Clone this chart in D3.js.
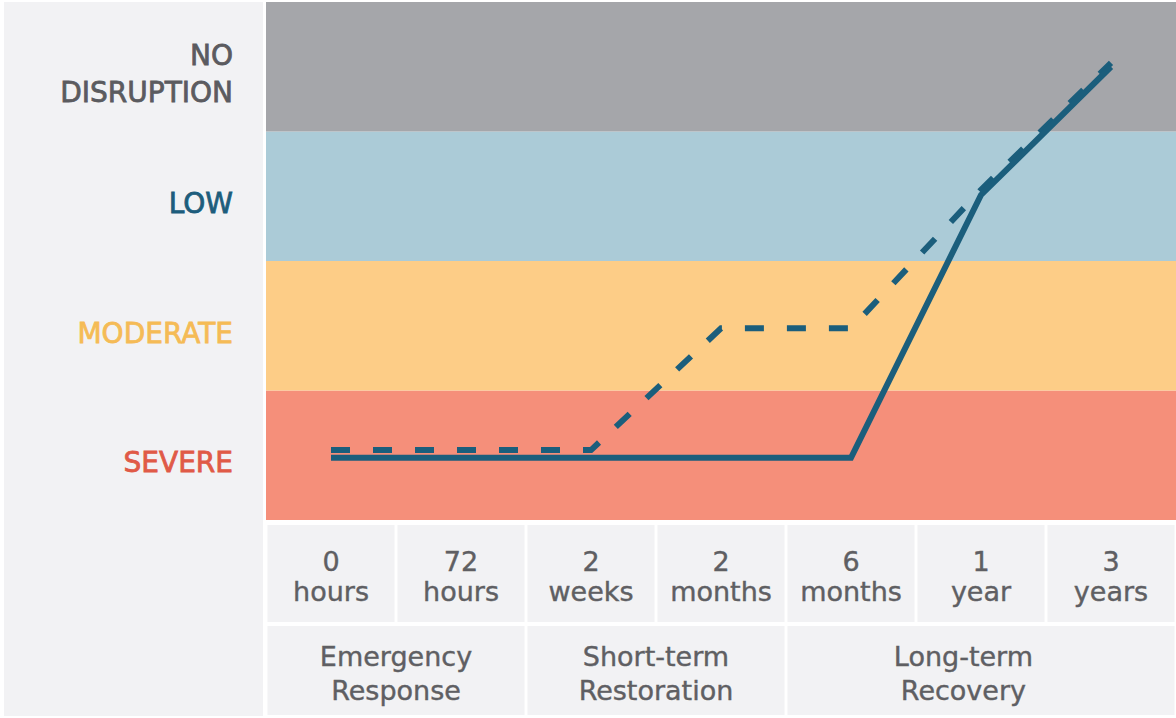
<!DOCTYPE html>
<html>
<head>
<meta charset="utf-8">
<script src="https://cdn.jsdelivr.net/npm/d3@7"></script>
<style>
  html, body { margin: 0; padding: 0; background: #ffffff; }
  svg { display: block; font-family: "DejaVu Sans", sans-serif; }
</style>
</head>
<body>
<svg id="chart" width="1176" height="718"></svg>
<script>
// ---- data ----
const levels = ["SEVERE", "MODERATE", "LOW", "NO DISRUPTION"];
const periods = ["0 hours", "72 hours", "2 weeks", "2 months", "6 months", "1 year", "3 years"];
const phases = ["Emergency Response", "Short-term Restoration", "Long-term Recovery"];
const phaseSpans = [2, 2, 3];
const solidValues = [0.48, 0.48, 0.48, 0.48, 0.48, 2.51, 3.50];
const dashedValues = [0.54, 0.54, 0.54, 1.48, 1.48, 2.55, 3.53];

// ---- styles ----
const bandColors = ["#f58f7a", "#fdcd87", "#abcbd7", "#a5a6aa"];
const labelColors = ["#e05a47", "#f5bb56", "#1d5d7c", "#5b5b5f"];
const lineColor = "#1b5e7c";
const panelColor = "#f2f2f4";
const textGray = "#5f5f63";

const svg = d3.select("#chart");
const y = d3.scaleLinear().domain([0, levels.length]).range([520, 2]);
const x = d3.scaleBand().domain(periods).range([266, 1176]);
const bw = x.bandwidth();

// left label panel
svg.append("rect").attr("x", 4).attr("y", 2).attr("width", 259).attr("height", 714).attr("fill", panelColor);

// bands
svg.selectAll("rect.band").data(levels).join("rect")
  .attr("class", "band")
  .attr("x", 266).attr("width", 910)
  .attr("y", (d, i) => y(i + 1))
  .attr("height", (d, i) => y(i) - y(i + 1))
  .attr("fill", (d, i) => bandColors[i]);

// level labels
levels.forEach((lab, i) => {
  const cy = (y(i) + y(i + 1)) / 2;
  const words = lab.split(" ");
  const t = svg.append("text")
    .attr("text-anchor", "end")
    .attr("x", 233)
    .attr("font-size", 28)
    .attr("fill", labelColors[i])
    .attr("stroke", labelColors[i])
    .attr("stroke-width", 0.8);
  if (words.length === 1) {
    t.attr("y", cy + 17).text(lab);
  } else {
    words.forEach((w, j) => {
      t.append("tspan").attr("x", 233).attr("y", cy - 2 + j * 37).text(w);
    });
  }
});

// table row 1: periods
const row1Top = 525, row1H = 97, row2Top = 626, row2H = 89;
svg.selectAll("rect.cell").data(periods).join("rect")
  .attr("class", "cell")
  .attr("x", d => x(d) + 1.5).attr("width", bw - 3)
  .attr("y", row1Top).attr("height", row1H)
  .attr("fill", panelColor);
periods.forEach(p => {
  const parts = p.split(" ");
  const t = svg.append("text")
    .attr("text-anchor", "middle")
    .attr("font-size", 27)
    .attr("fill", textGray)
    .attr("stroke", textGray)
    .attr("stroke-width", 0.4);
  parts.forEach((w, j) => {
    t.append("tspan").attr("x", x(p) + bw / 2).attr("y", 571 + j * 30).text(w);
  });
});

// table row 2: phases
let start = 0;
phases.forEach((ph, k) => {
  const x0 = x(periods[start]);
  const x1 = x(periods[start + phaseSpans[k] - 1]) + bw;
  svg.append("rect")
    .attr("x", x0 + 1.5).attr("width", x1 - x0 - 3)
    .attr("y", row2Top).attr("height", row2H)
    .attr("fill", panelColor);
  const parts = ph.split(" ");
  // the last (wider) phase label sits a little left of its cell centre
  const cx = k === phases.length - 1 ? x0 + (x1 - x0) * 0.455 : (x0 + x1) / 2;
  const t = svg.append("text")
    .attr("text-anchor", "middle")
    .attr("font-size", 27)
    .attr("fill", textGray)
    .attr("stroke", textGray)
    .attr("stroke-width", 0.4);
  parts.forEach((w, j) => {
    t.append("tspan").attr("x", cx).attr("y", 666 + j * 34).text(w);
  });
  start += phaseSpans[k];
});

// lines
const line = d3.line()
  .x((d, i) => x(periods[i]) + bw / 2)
  .y(d => y(d));

svg.append("path")
  .datum(dashedValues)
  .attr("d", line)
  .attr("fill", "none")
  .attr("stroke", lineColor)
  .attr("stroke-width", 6)
  .attr("stroke-dasharray", "19,23");

svg.append("path")
  .datum(solidValues)
  .attr("d", line)
  .attr("fill", "none")
  .attr("stroke", lineColor)
  .attr("stroke-width", 6);
</script>
</body>
</html>
